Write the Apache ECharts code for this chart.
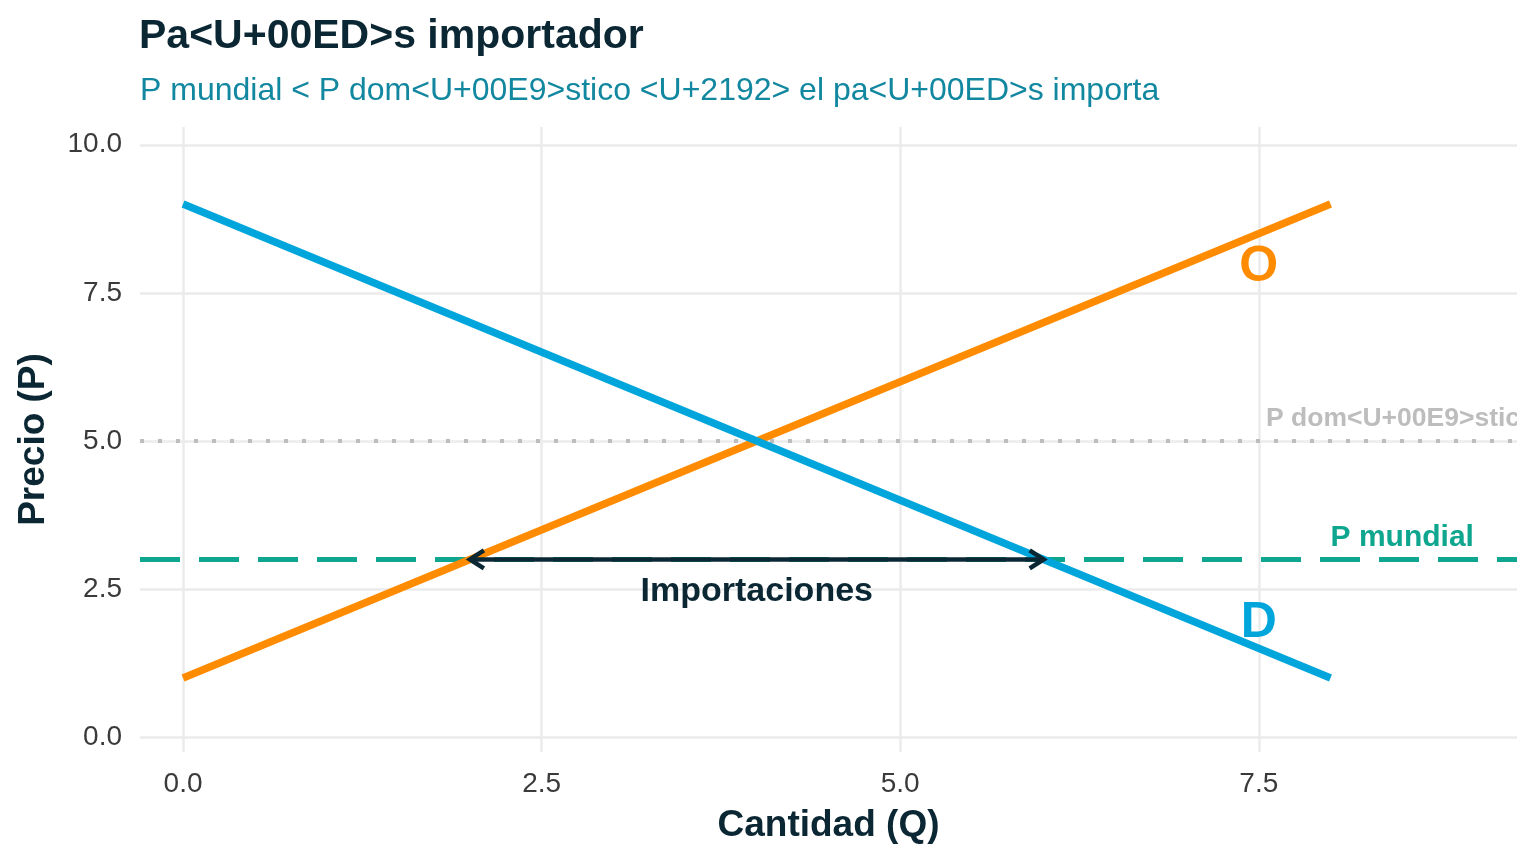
<!DOCTYPE html>
<html>
<head>
<meta charset="utf-8">
<script src="https://cdn.jsdelivr.net/npm/echarts@6/dist/echarts.min.js"></script>
<style>
  html, body { margin: 0; padding: 0; background: #fff; }
  #chart { width: 1536px; height: 864px; }
</style>
</head>
<body>
<div id="chart"></div>
<script>
// curvas de oferta y demanda
const qSupply = [0, 8];
const pSupply = [1, 9];
const qDemand = [0, 8];
const pDemand = [9, 1];
// precios de referencia
const pDomestic = 5;
const pWorld = 3;
// tramo de importaciones
const importsQ = [2, 6];
// ticks
const xTicks = [0, 2.5, 5, 7.5];
const yTicks = [0, 2.5, 5, 7.5, 10];
// anotaciones
const labelTexts = ['O', 'D', 'P mundial', 'P dom<U+00E9>stico', 'Importaciones'];
const labelQ = [7.5, 7.5, 8.5, 7.55, 4];
const labelP = [7.93, 1.92, 3.37, 5.37, 2.45];

const DARK = '#0b2733';
const BLUE = '#00a6db';
const ORANGE = '#ff8c00';
const TEAL = '#0ea68f';
const GREY = '#bdbdbd';
const FONT = 'Liberation Sans';

const labelStyles = [
  { fill: ORANGE, fontSize: 50, align: 'center' },
  { fill: BLUE, fontSize: 50, align: 'center' },
  { fill: TEAL, fontSize: 30, align: 'center' },
  { fill: GREY, fontSize: 26.5, align: 'left' },
  { fill: DARK, fontSize: 34, align: 'center' }
];

const chart = echarts.init(document.getElementById('chart'));

const option = {
  backgroundColor: '#fff',
  animation: false,
  title: [
    {
      text: 'Pa<U+00ED>s importador',
      left: 139, top: 16, padding: 0,
      textStyle: { fontFamily: FONT, fontSize: 41, fontWeight: 'bold', color: DARK }
    },
    {
      text: 'P mundial < P dom<U+00E9>stico <U+2192> el pa<U+00ED>s importa',
      left: 140, top: 75, padding: 0,
      textStyle: { fontFamily: FONT, fontSize: 32, fontWeight: 'normal', color: '#1287a0' }
    }
  ],
  grid: { left: 140, right: 19, top: 127, bottom: 112, containLabel: false },
  xAxis: {
    type: 'value',
    min: -0.3, max: 9.3,
    name: 'Cantidad (Q)',
    nameLocation: 'middle',
    nameGap: 55,
    nameTextStyle: { fontFamily: FONT, fontSize: 37, fontWeight: 'bold', color: DARK },
    axisLine: { show: false },
    axisTick: { show: false, customValues: xTicks },
    axisLabel: {
      customValues: xTicks, margin: 18,
      fontFamily: FONT, fontSize: 28, color: '#3a3a3a',
      formatter: v => v.toFixed(1)
    },
    splitLine: { show: true, lineStyle: { color: '#ebebeb', width: 2.5 } }
  },
  yAxis: {
    type: 'value',
    min: -0.25, max: 10.3,
    name: 'Precio (P)',
    nameLocation: 'middle',
    nameRotate: 90,
    nameGap: 88,
    nameTextStyle: { fontFamily: FONT, fontSize: 37, fontWeight: 'bold', color: DARK },
    axisLine: { show: false },
    axisTick: { show: false, customValues: yTicks },
    axisLabel: {
      customValues: yTicks, margin: 18,
      fontFamily: FONT, fontSize: 28, color: '#3a3a3a',
      formatter: v => v.toFixed(1)
    },
    splitLine: { show: true, lineStyle: { color: '#ebebeb', width: 2.5 } }
  },
  series: [
    {
      name: 'P doméstico',
      type: 'line',
      data: [],
      z: 1,
      markLine: {
        silent: true, symbol: 'none', label: { show: false }, z: 1,
        lineStyle: { color: GREY, width: 4, type: [4, 14], cap: 'butt' },
        data: [{ yAxis: pDomestic }]
      }
    },
    {
      name: 'P mundial',
      type: 'line',
      data: [],
      z: 1,
      markLine: {
        silent: true, symbol: 'none', label: { show: false }, z: 1,
        lineStyle: { color: TEAL, width: 5, type: [40, 19], cap: 'butt' },
        data: [{ yAxis: pWorld }]
      }
    },
    {
      name: 'O',
      type: 'line',
      showSymbol: false,
      lineStyle: { color: ORANGE, width: 7.5 },
      data: qSupply.map((q, i) => [q, pSupply[i]]),
      z: 3
    },
    {
      name: 'D',
      type: 'line',
      showSymbol: false,
      lineStyle: { color: BLUE, width: 7.5 },
      data: qDemand.map((q, i) => [q, pDemand[i]]),
      z: 3
    },
    {
      name: 'Importaciones',
      type: 'custom',
      z: 4,
      data: [[importsQ[0], pWorld, importsQ[1]]],
      renderItem: (params, api) => {
        const a = api.coord([api.value(0), api.value(1)]);
        const b = api.coord([api.value(2), api.value(1)]);
        const h = 14, w = 9;
        const st = { stroke: DARK, lineWidth: 4.5, fill: null, lineJoin: 'miter' };
        return {
          type: 'group',
          children: [
            { type: 'line', shape: { x1: a[0], y1: a[1], x2: b[0], y2: b[1] }, style: st },
            { type: 'polyline', shape: { points: [[a[0] + h, a[1] - w], a, [a[0] + h, a[1] + w]] }, style: st },
            { type: 'polyline', shape: { points: [[b[0] - h, b[1] - w], b, [b[0] - h, b[1] + w]] }, style: st }
          ]
        };
      }
    },
    {
      name: 'etiquetas',
      type: 'custom',
      z: 5,
      clip: true,
      data: labelTexts.map((t, i) => [labelQ[i], labelP[i], i]),
      renderItem: (params, api) => {
        const i = api.value(2);
        const p = api.coord([api.value(0), api.value(1)]);
        const s = labelStyles[i];
        return {
          type: 'text',
          x: p[0], y: p[1],
          style: {
            text: labelTexts[i],
            fill: s.fill,
            fontFamily: FONT,
            fontWeight: 'bold',
            fontSize: s.fontSize,
            align: s.align,
            verticalAlign: 'middle'
          }
        };
      }
    }
  ]
};

chart.setOption(option);
</script>
</body>
</html>
